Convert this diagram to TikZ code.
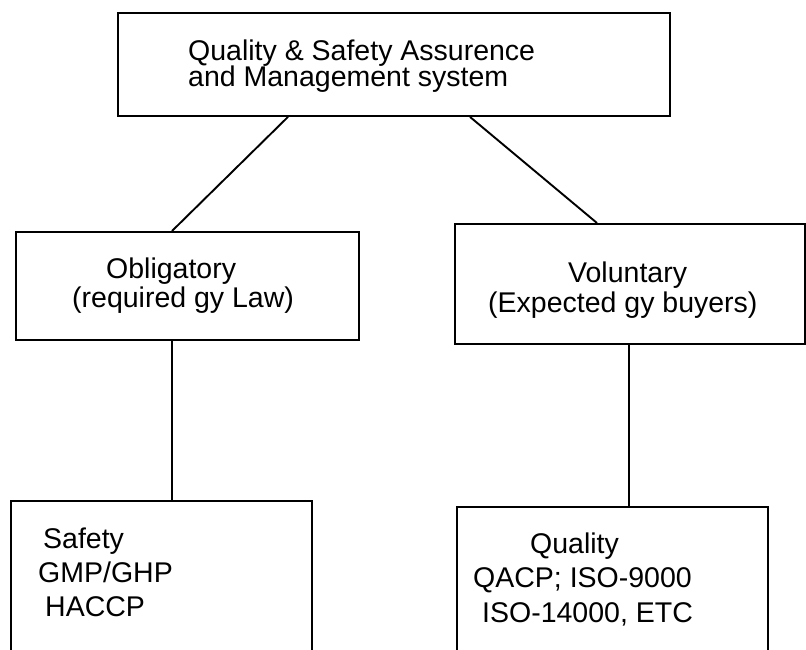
\documentclass[tikz,border=0pt]{standalone}
\usepackage{fontspec}
\setmainfont{Liberation Sans}
\usetikzlibrary{calc}
\begin{document}
\begin{tikzpicture}[x=1pt,y=-1pt,
  box/.style={draw, line width=1.9pt, inner sep=0pt, anchor=north west},
  lbl/.style={anchor=base west, inner sep=0pt, font=\fontsize{28.5}{32}\selectfont},
  link/.style={line width=1.9pt}]
\useasboundingbox (0,0) rectangle (806,649);
\clip (0,0) rectangle (806,649);
% boxes
\node[box, minimum width=552pt, minimum height=103pt] (top) at (117,12) {};
\node[box, minimum width=343pt, minimum height=108pt] (lmid) at (15,231) {};
\node[box, minimum width=350pt, minimum height=120pt] (rmid) at (454,223) {};
\node[box, minimum width=301pt, minimum height=200pt] (lbot) at (10,500) {};
\node[box, minimum width=311pt, minimum height=200pt] (rbot) at (456,506) {};
% texts
\node[lbl] (t1) at (188,60) {Quality \& Safety Assurence};
\node[lbl] (t2) at (188,86) {and Management system};
\node[lbl] (l1) at (106,278) {Obligatory};
\node[lbl] (l2) at (72,307) {(required gy Law)};
\node[lbl] (r1) at (568,282) {Voluntary};
\node[lbl] (r2) at (488,312) {(Expected gy buyers)};
\node[lbl] (b1) at (43,548) {Safety};
\node[lbl] (b2) at (38,582) {GMP/GHP};
\node[lbl] (b3) at (45,616) {HACCP};
\node[lbl] (c1) at (530,553) {Quality};
\node[lbl] (c2) at (473,587) {QACP; ISO-9000};
\node[lbl] (c3) at (482,622) {ISO-14000, ETC};
% connectors
\draw[link] ([xshift=171pt]top.south west) -- ([xshift=157pt]lmid.north west);
\draw[link] ([xshift=353pt]top.south west) -- ([xshift=143pt]rmid.north west);
\draw[link] ([xshift=157pt]lmid.south west) -- ([xshift=162pt]lbot.north west);
\draw[link] ([xshift=175pt]rmid.south west) -- ([xshift=173pt]rbot.north west);
\end{tikzpicture}
\end{document}
